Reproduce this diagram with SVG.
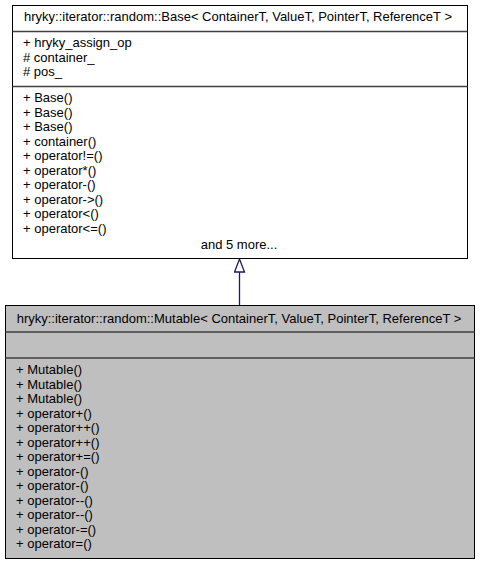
<svg xmlns="http://www.w3.org/2000/svg" width="480" height="565" viewBox="0 0 480 565">
<style>
text{font-family:"Liberation Sans",Arial,Helvetica,sans-serif;font-size:13px;fill:#000}
.box{stroke:#000;stroke-width:1}
.sep{stroke:#404040;stroke-width:1.5}
.mid{text-anchor:middle}
.edge{stroke:#191970;stroke-width:1.3;fill:none}
</style>
<defs>
<marker id="inh" markerWidth="16" markerHeight="12" refX="1" refY="6" orient="auto" markerUnits="userSpaceOnUse" viewBox="0 0 16 12">
<path d="M1,1 L14,6 L1,11 Z" fill="#fff" stroke="#191970" stroke-width="1.3"/>
</marker>
</defs>
<g id="connectors">
<path class="edge" d="M239.5,305 L239.5,272" marker-end="url(#inh)"/>
</g>
<g id="node-base">
<rect class="box" x="12.5" y="5.5" width="455" height="253" fill="#fff"/>
<line class="sep" x1="12.5" y1="31.5" x2="467.5" y2="31.5"/>
<line class="sep" x1="12.5" y1="86.5" x2="467.5" y2="86.5"/>
<text class="mid" x="238" y="21">hryky::iterator::random::Base&lt; ContainerT, ValueT, PointerT, ReferenceT &gt;</text>
<text x="23" y="47">+ hryky_assign_op</text>
<text x="23" y="61.5"># container_</text>
<text x="23" y="76"># pos_</text>
<text x="23" y="102">+ Base()</text>
<text x="23" y="116.5">+ Base()</text>
<text x="23" y="131">+ Base()</text>
<text x="23" y="145.5">+ container()</text>
<text x="23" y="160">+ operator!=()</text>
<text x="23" y="174.5">+ operator*()</text>
<text x="23" y="189">+ operator-()</text>
<text x="23" y="203.5">+ operator-&gt;()</text>
<text x="23" y="218">+ operator&lt;()</text>
<text x="23" y="232.5">+ operator&lt;=()</text>
<text class="mid" x="239" y="249">and 5 more...</text>
</g>
<g id="node-mutable">
<rect class="box" x="5.5" y="305.5" width="469" height="253" fill="#bfbfbf"/>
<line class="sep" x1="5.5" y1="332" x2="474.5" y2="332"/>
<line class="sep" x1="5.5" y1="358" x2="474.5" y2="358"/>
<text class="mid" x="239" y="323">hryky::iterator::random::Mutable&lt; ContainerT, ValueT, PointerT, ReferenceT &gt;</text>
<text x="16" y="374">+ Mutable()</text>
<text x="16" y="388.5">+ Mutable()</text>
<text x="16" y="403">+ Mutable()</text>
<text x="16" y="417.5">+ operator+()</text>
<text x="16" y="432">+ operator++()</text>
<text x="16" y="446.5">+ operator++()</text>
<text x="16" y="461">+ operator+=()</text>
<text x="16" y="475.5">+ operator-()</text>
<text x="16" y="490">+ operator-()</text>
<text x="16" y="504.5">+ operator--()</text>
<text x="16" y="519">+ operator--()</text>
<text x="16" y="533.5">+ operator-=()</text>
<text x="16" y="548">+ operator=()</text>
</g>
</svg>
